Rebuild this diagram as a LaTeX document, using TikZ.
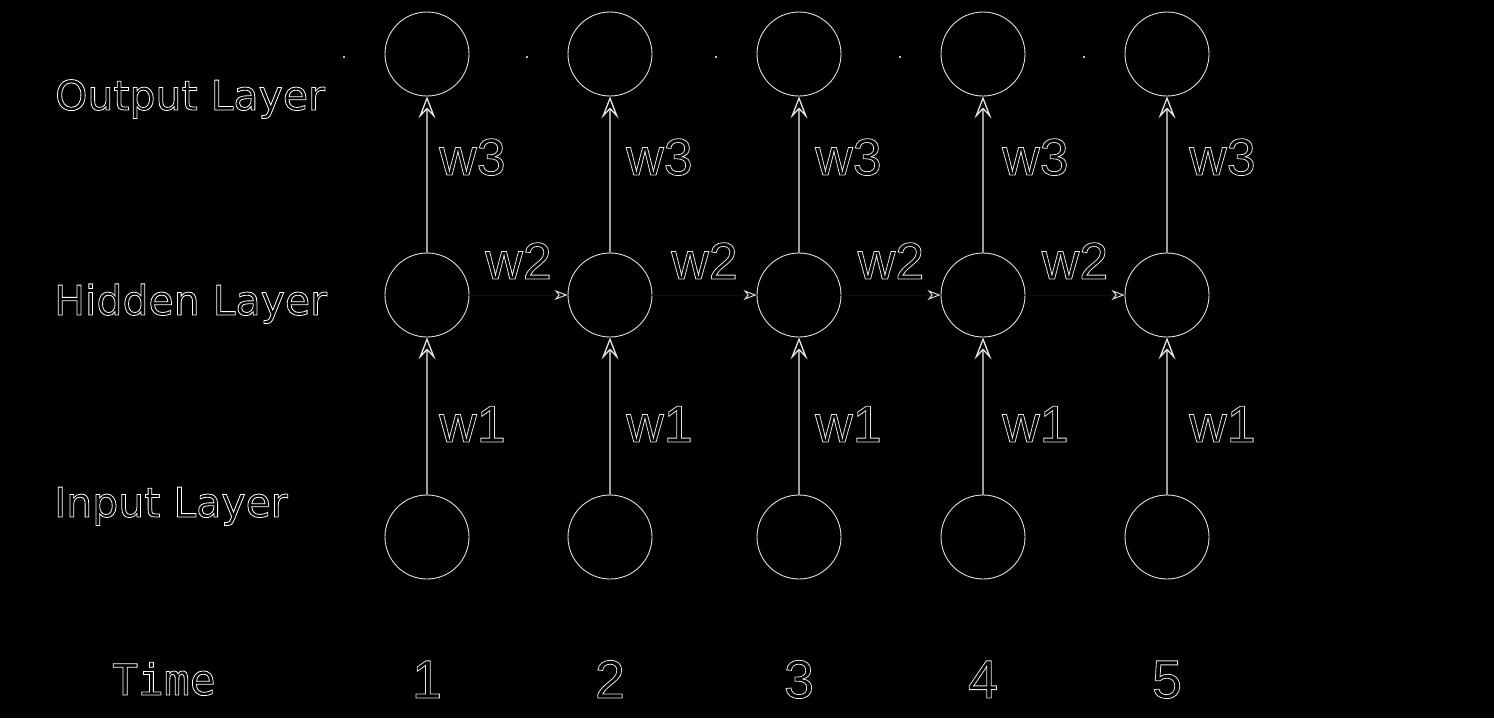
\documentclass[tikz,border=0pt]{standalone}
\usepackage{fontspec}
\usepackage{tikz}
\usetikzlibrary{arrows.meta,positioning}
\newfontfamily\layerfont{DejaVu Sans}
\newfontfamily\timefont{DejaVu Sans Mono}
\newfontfamily\weightfont{Liberation Sans}
% letters drawn as outlines only
\newcommand{\hollow}[1]{\special{pdf:literal direct 1 Tr 0.8 w}#1\special{pdf:literal direct 0 Tr}}
\tikzset{%
	neuron/.style  = {draw=white!88!black, circle, minimum size=84pt, inner sep=0pt, line width=0.9pt},
	layer/.style   = {anchor=base west, inner sep=0pt, text=white, font=\layerfont\fontsize{41}{48}\selectfont},
	timelbl/.style = {anchor=base west, inner sep=0pt, text=white, font=\timefont\fontsize{43}{50}\selectfont},
	tick/.style    = {anchor=base, inner sep=0pt, text=white!90!black, font=\weightfont\fontsize{54}{60}\selectfont},
	weight/.style  = {anchor=base west, inner sep=0pt, text=white!90!black, font=\weightfont\fontsize{52}{60}\selectfont},
	uparrow/.style = {draw=white!62!black, line width=1.3pt, -{Stealth[open,length=22pt,width=17pt,inset=9pt,white!90!black]}},
	sidearrow/.style = {draw=white!5!black, line width=1pt, -{Stealth[open,length=13pt,width=10pt,inset=4pt,white!85!black]}},
}
\begin{document}
\begin{tikzpicture}[x=1pt,y=-1pt]
	\fill[black] (0,0) rectangle (1494,718);  % background
	\useasboundingbox (0,0) rectangle (1494,718);
	\node[layer] (outlbl) at (55,110) {\hollow{Output Layer}};
	\node[layer] (hidlbl) at (54,315) {\hollow{Hidden Layer}};
	\node[layer] (inlbl) at (54,517) {\hollow{Input Layer}};
	\node[timelbl] (timelbl) at (112,695) {\hollow{Time}};
	\foreach \i/\x/\lx in {1/427/439,2/610/626,3/799/815,4/983/1002,5/1167/1189} {
		\node[neuron] (in\i) at (\x,537) {};
		\node[neuron] (hid\i) at (\x,295) {};
		\node[neuron] (out\i) at (\x,54) {};
		\fill[white] (\x-83,57) circle (1.2pt);  % small dot
		\draw[uparrow] (in\i) -- (hid\i);
		\draw[uparrow] (hid\i) -- (out\i);
		\node[weight] (wa\i) at (\lx,442) {\hollow{w1}};
		\node[weight] (wc\i) at (\lx,175) {\hollow{w3}};
		\node[tick] (t\i) at (\x,698) {\hollow{\i}};
	}
	\foreach \i/\j in {1/2,2/3,3/4,4/5}
		\draw[sidearrow] (hid\i) -- node[weight,anchor=base,yshift=16pt] (wb\i) {\hollow{w2}} (hid\j);
\end{tikzpicture}
\end{document}
